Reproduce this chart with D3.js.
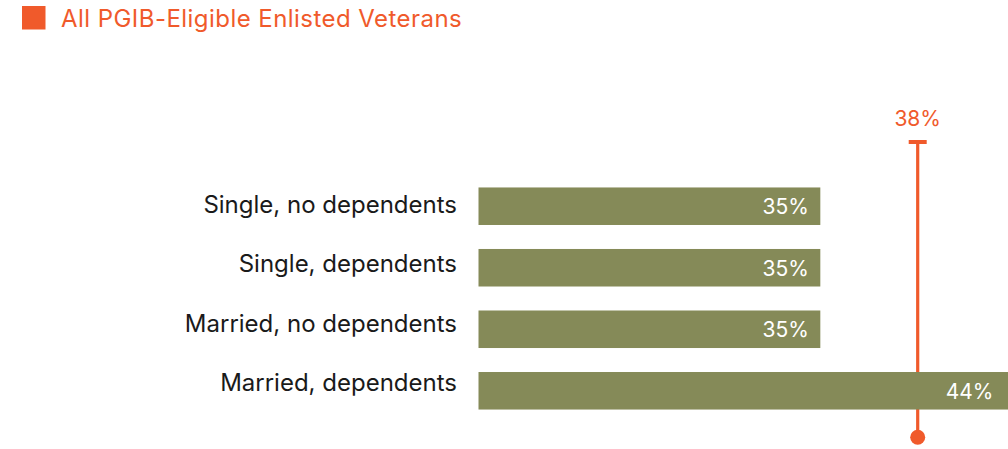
<!DOCTYPE html>
<html>
<head>
<meta charset="utf-8">
<script src="https://cdn.jsdelivr.net/npm/d3@7"></script>
<style>
  html, body { margin: 0; padding: 0; background: #ffffff; }
  svg { display: block; font-family: Inter, "Open Sans", sans-serif; }
</style>
</head>
<body>
<div id="chart"></div>
<script>
// Share of PGIB-eligible enlisted veterans, by family status
const categories = ["Single, no dependents", "Single, dependents", "Married, no dependents", "Married, dependents"];
const values = [35, 35, 35, 44];
const benchmarkLabel = "All PGIB-Eligible Enlisted Veterans";
const benchmarkValue = 38;

const width = 1008, height = 449;
const orange = "#f05a2b", olive = "#858a58";

const svg = d3.select("#chart").append("svg")
  .attr("width", width).attr("height", height);

// Value axis: bars start at the plot's left edge (baseline value 24.47)
const x = d3.scaleLinear().domain([24.47, benchmarkValue]).range([478.5, 917.7]);
const y = d3.scaleBand().domain(categories).range([156.7, 440.3]).paddingInner(0.39).paddingOuter(0.5);
// Category label baselines sit on a slightly tighter rhythm than the bars
const yLabel = d3.scalePoint().domain(categories).range([213.3, 390.7]);

svg.append("defs").append("clipPath").attr("id", "plot-clip")
  .append("rect").attr("x", 0).attr("y", 0).attr("width", width).attr("height", height);

// Legend
const legend = svg.append("g");
legend.append("rect").attr("x", 22).attr("y", 6).attr("width", 23.5).attr("height", 23.5).attr("fill", orange);
legend.append("text").attr("x", 61).attr("y", 26.7)
  .attr("fill", orange).attr("font-size", 24).attr("letter-spacing", 0.45).text(benchmarkLabel);

// Category labels
svg.append("g").selectAll("text").data(categories).join("text")
  .attr("x", 457).attr("y", d => yLabel(d))
  .attr("text-anchor", "end").attr("fill", "#1a1a1a").attr("font-size", 24)
  .text(d => d);

// Benchmark marker (drawn beneath the bars)
const bx = x(benchmarkValue);
const marker = svg.append("g").attr("stroke", orange).attr("fill", orange);
marker.append("line").attr("x1", bx).attr("x2", bx).attr("y1", 140).attr("y2", 437.3).attr("stroke-width", 3.2);
marker.append("line").attr("x1", bx - 9).attr("x2", bx + 9).attr("y1", 142).attr("y2", 142).attr("stroke-width", 4);
marker.append("circle").attr("cx", bx).attr("cy", 437.3).attr("r", 7.5).attr("stroke", "none");
svg.append("text").attr("x", bx).attr("y", 126)
  .attr("text-anchor", "middle").attr("fill", orange).attr("font-size", 21)
  .text(benchmarkValue + "%");

// Bars
const bars = svg.append("g").attr("clip-path", "url(#plot-clip)");
bars.selectAll("rect").data(values).join("rect")
  .attr("x", x.range()[0])
  .attr("y", (d, i) => y(categories[i]))
  .attr("width", d => x(d) - x.range()[0])
  .attr("height", y.bandwidth())
  .attr("fill", olive);

// Value labels inside bar ends (kept within the visible area)
svg.append("g").selectAll("text").data(values).join("text")
  .attr("x", d => Math.min(x(d), width - 3) - 11.5)
  .attr("y", (d, i) => y(categories[i]) + y.bandwidth() / 2 + 8)
  .attr("text-anchor", "end").attr("fill", "#ffffff").attr("font-size", 21)
  .text(d => d + "%");
</script>
</body>
</html>
